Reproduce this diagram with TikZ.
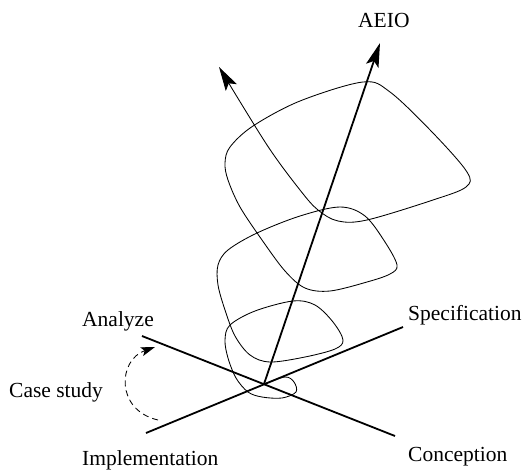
\documentclass[tikz,border=0pt]{standalone}
\usepackage{fontspec}
\setmainfont{Liberation Serif}
\usetikzlibrary{arrows.meta}
\begin{document}
\begin{tikzpicture}[x=1pt,y=-1pt,
  axisline/.style={line width=1.8pt},
  curveline/.style={line width=0.85pt},
  lbl/.style={inner sep=0pt, anchor=base west, font=\fontsize{21.5}{24}\selectfont},
  bighead/.style={-{Stealth[length=24pt,width=13pt,inset=5pt]}},
  smallhead/.style={-{Stealth[length=14pt,width=9pt,inset=3pt]}}]
\useasboundingbox (0,0) rectangle (526,471);
% named points
\coordinate (O) at (264,384);
\coordinate (anaEnd) at (142,336);
\coordinate (conEnd) at (395,436);
\coordinate (impEnd) at (146,433);
\coordinate (speEnd) at (403,327);
\coordinate (aeioEnd) at (380,43);
\coordinate (csStart) at (158,420);
\coordinate (csEnd) at (155,347);
% labels
\node[lbl] (aeio) at (358,27) {AEIO};
\node[lbl] (analyze) at (82,326) {Analyze};
\node[lbl] (casestudy) at (9,397) {Case study};
\node[lbl] (impl) at (82,465) {Implementation};
\node[lbl] (spec) at (408,320) {Specification};
\node[lbl] (conc) at (408,461) {Conception};
% axes
\draw[axisline] (anaEnd) -- (conEnd);
\draw[axisline] (impEnd) -- (speEnd);
\draw[axisline, bighead] (O) -- (aeioEnd);
% spiral
\draw[curveline, bighead] plot[smooth, tension=0.55] coordinates {
 (264,384) (285,377) (294,382) (296,392) (282,398) (262,397) (248,392)
 (236,378) (228,358) (225,340) (230,325) (255,311) (293,301) (315,305)
 (333,322) (343,340) (335,349) (305,357) (270,362) (250,355) (235,336)
 (225,310) (218,285) (218,265) (228,250) (257,233) (300,216) (340,207)
 (365,216) (385,242) (397,265) (390,274) (367,282) (330,291) (305,288)
 (285,271) (262,240) (240,207) (228,180) (225,163) (230,147) (253,126)
 (300,101) (363,82) (390,92) (433,133) (467,172) (466,187) (433,200)
 (367,220) (338,221) (318,210) (300,190) (267,145) (219,67)};
% case study arrow
\draw[curveline, dash pattern=on 6pt off 4pt, smallhead]
  (csStart) .. controls (115,410) and (118,360) .. (csEnd);
\end{tikzpicture}
\end{document}
